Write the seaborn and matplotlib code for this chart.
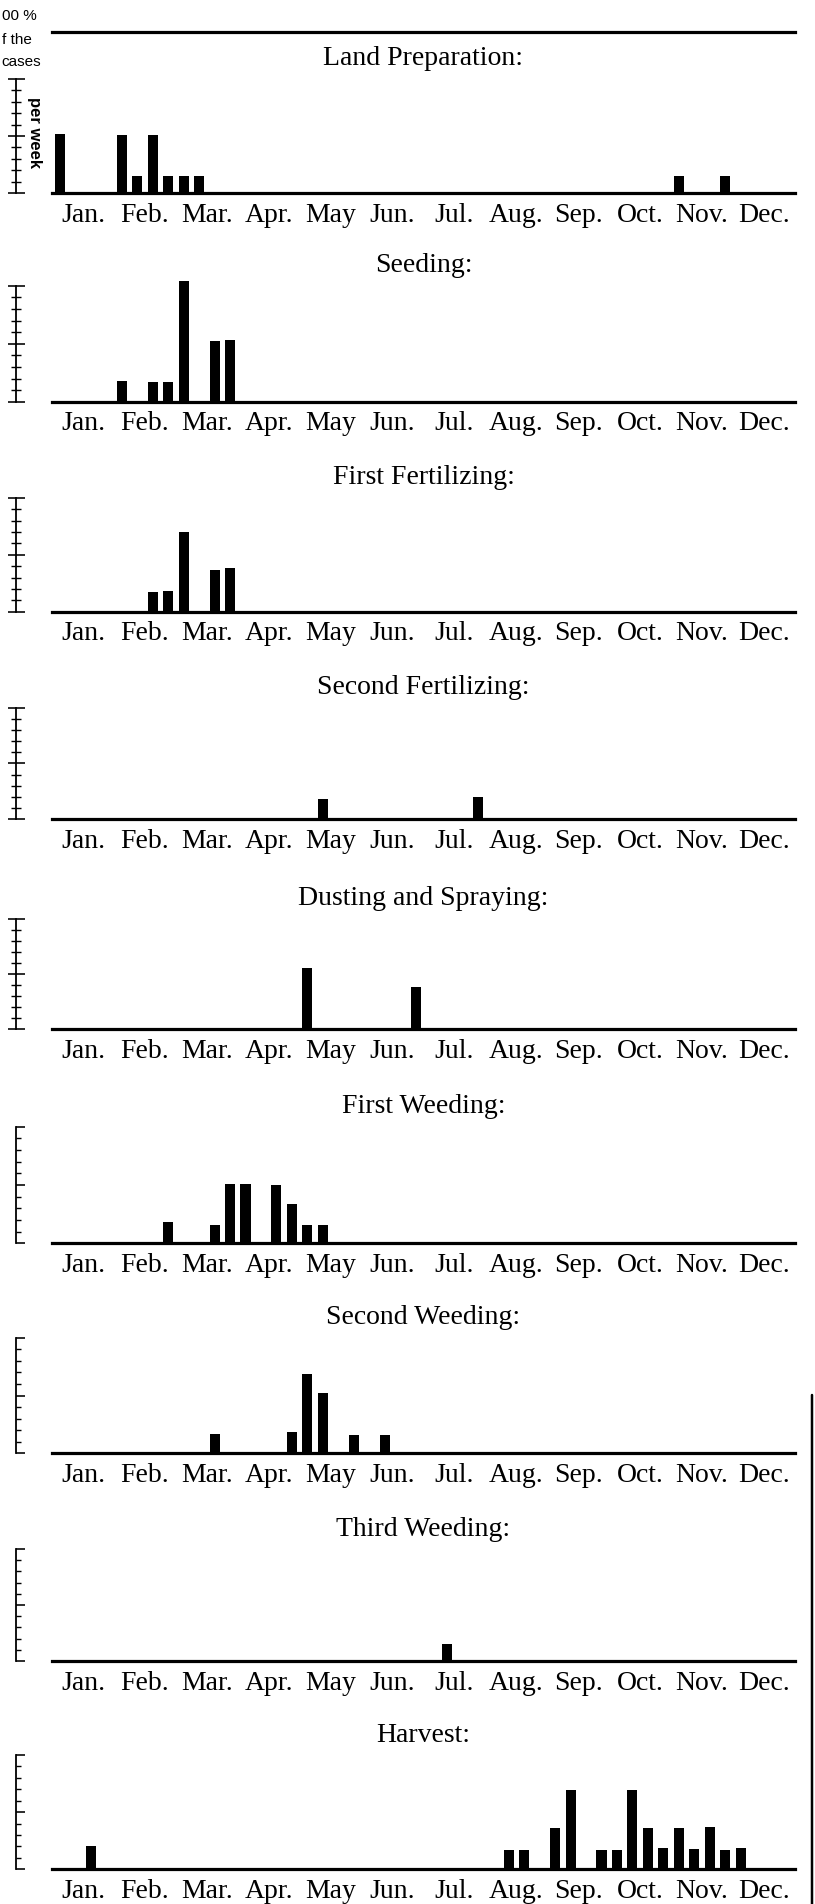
import numpy as np
import pandas as pd
import matplotlib
matplotlib.use("Agg")
import matplotlib.pyplot as plt
from matplotlib.lines import Line2D
import seaborn as sns

# ---------------- data ----------------
months = ["Jan.", "Feb.", "Mar.", "Apr.", "May", "Jun.", "Jul.",
          "Aug.", "Sep.", "Oct.", "Nov.", "Dec."]
WEEKS_PER_MONTH = 4
N_WEEKS = 12 * WEEKS_PER_MONTH

titles = ["Land Preparation:", "Seeding:", "First Fertilizing:",
          "Second Fertilizing:", "Dusting and Spraying:", "First Weeding:",
          "Second Weeding:", "Third Weeding:", "Harvest:"]

# visible part of the scale legend (its left side is cut by the page edge)
legend_lines = ["00 %", "f the", "cases"]
scale_label = "per week"

# week index (0 = first week of January, 4 weeks per month), % of cases
land_prep_weeks = [0, 4, 5, 6, 7, 8, 9, 40, 43]
land_prep_pct = [52, 51, 15, 51, 15, 15, 15, 15, 15]

seeding_weeks = [4, 6, 7, 8, 10, 11]
seeding_pct = [18, 17, 17, 104, 52, 53]

fert1_weeks = [6, 7, 8, 10, 11]
fert1_pct = [17, 18, 70, 37, 38]

fert2_weeks = [17, 27]
fert2_pct = [18, 20]

dusting_weeks = [16, 23]
dusting_pct = [56, 38]

weed1_weeks = [7, 10, 11, 12, 14, 15, 16, 17]
weed1_pct = [18, 16, 51, 51, 50, 34, 16, 16]

weed2_weeks = [10, 15, 16, 17, 19, 21]
weed2_pct = [17, 18, 69, 52, 16, 16]

weed3_weeks = [25]
weed3_pct = [15]

harvest_weeks = [2, 29, 30, 32, 33, 35, 36, 37, 38, 39, 40, 41, 42, 43, 44]
harvest_pct = [20, 17, 17, 36, 69, 17, 17, 69, 36, 19, 36, 18, 37, 17, 19]

panels = [
    (land_prep_weeks, land_prep_pct),
    (seeding_weeks, seeding_pct),
    (fert1_weeks, fert1_pct),
    (fert2_weeks, fert2_pct),
    (dusting_weeks, dusting_pct),
    (weed1_weeks, weed1_pct),
    (weed2_weeks, weed2_pct),
    (weed3_weeks, weed3_pct),
    (harvest_weeks, harvest_pct),
]

# ---------------- layout (pixels) ----------------
W, H = 815, 1904
DPI = 100
PT = 72.0 / DPI  # points per pixel
X_LEFT, X_RIGHT = 52, 795
baselines = [193.3, 401.7, 611.7, 819.3, 1029.3, 1243.3, 1453.3, 1661.0, 1869.3]
tops = [78.7, 285.7, 497.7, 707.7, 919.0, 1126.7, 1337.7, 1549.0, 1755.0]
YAXIS_X = 15.5

sns.set_style("white")
serif = ["Liberation Serif", "DejaVu Serif"]
sans = ["Liberation Sans Narrow", "Liberation Sans", "DejaVu Sans"]
plt.rcParams["font.family"] = serif
plt.rcParams["text.color"] = "black"
FS = 20

fig = plt.figure(figsize=(W / DPI, H / DPI), dpi=DPI)
fig.patch.set_facecolor("white")

for i, ((wk, pct), title) in enumerate(zip(panels, titles)):
    base, top = baselines[i], tops[i]
    ax = fig.add_axes([X_LEFT / W, 1 - base / H,
                       (X_RIGHT - X_LEFT) / W, (base - top) / H])
    full = np.zeros(N_WEEKS)
    full[np.array(wk)] = pct
    df = pd.DataFrame({"week": np.arange(N_WEEKS), "pct": full})
    sns.barplot(data=df, x="week", y="pct", color="black", saturation=1,
                width=0.65, linewidth=0, ax=ax, errorbar=None)
    for p in ax.patches:
        p.set_clip_on(False)
    ax.set_facecolor("none")
    ax.set_xlim(-0.5, N_WEEKS - 0.5)
    ax.set_ylim(0, 100)
    ax.set_xlabel("")
    ax.set_ylabel("")

    # month labels centred under each month's four weeks
    ax.set_xticks([WEEKS_PER_MONTH * m + 1.5 for m in range(12)], labels=months)
    ax.tick_params(axis="x", length=0, pad=7, colors="black", labelsize=FS)
    for t in ax.get_xticklabels():
        t.set_fontfamily(serif)
        t.set_fontsize(FS)

    # y scale: ticks every 10 %, long ones at 0, 50, 100
    ax.set_yticks([0, 50, 100])
    ax.set_yticks([10, 20, 30, 40, 60, 70, 80, 90], minor=True)
    ax.set_yticklabels([])
    if i < 5:
        ax.tick_params(axis="y", which="major", direction="inout",
                       length=17 * PT, width=1.6 * PT, color="black", left=True)
        ax.tick_params(axis="y", which="minor", direction="inout",
                       length=10 * PT, width=1.4 * PT, color="black", left=True)
    else:
        ax.tick_params(axis="y", which="major", direction="in",
                       length=9 * PT, width=1.6 * PT, color="black", left=True)
        ax.tick_params(axis="y", which="minor", direction="in",
                       length=5 * PT, width=1.4 * PT, color="black", left=True)

    ax.spines["right"].set_visible(False)
    ax.spines["left"].set_position(("outward", (X_LEFT - YAXIS_X) * PT))
    ax.spines["left"].set_bounds(0, 100)
    ax.spines["left"].set_linewidth(1.8 * PT)
    ax.spines["left"].set_color("black")
    ax.spines["bottom"].set_linewidth(3.2 * PT)
    ax.spines["bottom"].set_color("black")
    if i == 0:
        ax.spines["top"].set_position(("outward", (top - 32) * PT))
        ax.spines["top"].set_linewidth(3.2 * PT)
        ax.spines["top"].set_color("black")
    else:
        ax.spines["top"].set_visible(False)

    ax.annotate(title, xy=(0.5, 1), xycoords="axes fraction",
                xytext=(0, 20 * PT), textcoords="offset points",
                ha="center", va="center", fontsize=FS, fontfamily=serif)

    if i == 0:
        ax.text(-(X_LEFT - 34) / (X_RIGHT - X_LEFT), 0.53, scale_label,
                transform=ax.transAxes, rotation=270, ha="center", va="center",
                fontsize=12, fontweight="bold", fontfamily=sans)

# scale legend at top-left
for txt, yc in zip(legend_lines, [16, 40, 62]):
    fig.text(1.5 / W, 1 - yc / H, txt, ha="left", va="center",
             fontsize=11, fontfamily=sans)

# page edge visible on the right of the scan
fig.add_artist(Line2D([812 / W, 812 / W], [0, 1 - 1395 / H],
                      transform=fig.transFigure, color="black", lw=2.5 * PT))

fig.savefig("out.png", dpi=DPI, facecolor="white")
